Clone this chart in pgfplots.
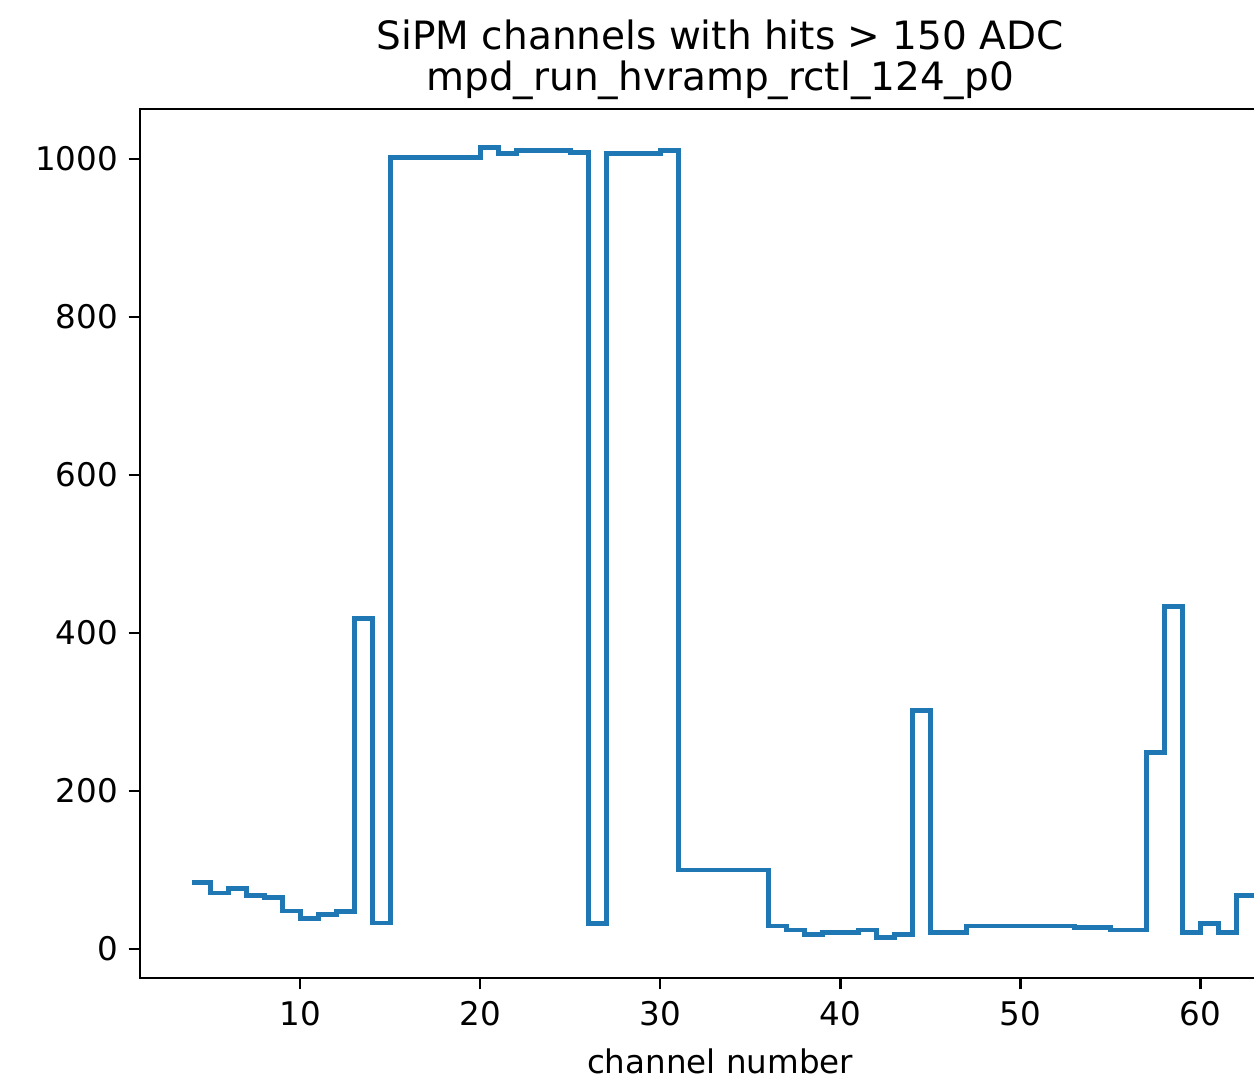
\documentclass[border=0pt]{standalone}
\usepackage{fontspec}
\setmainfont{DejaVu Sans}
\usepackage{pgfplots}
\pgfplotsset{compat=1.18}
\definecolor{mplblue}{HTML}{1F77B4}
\begin{document}
\begin{tikzpicture}
\begin{axis}[
  scale only axis,
  width=386.7pt, height=289.7pt,
  xmin=1.11, xmax=65.55,
  ymin=-36.7, ymax=1063.3,
  xtick={10,20,30,40,50,60},
  ytick={0,200,400,600,800,1000},
  tick align=outside,
  tick pos=left,
  major tick length=3.8pt,
  every tick/.style={black, line width=0.85pt},
  axis line style={line width=0.85pt},
  /pgf/number format/assume math mode=true,
  /pgf/number format/1000 sep={},
  ticklabel style={font=\fontsize{10.85}{13}\selectfont},
  xticklabel style={yshift=-0.5pt},
  xlabel={channel number},
  xlabel style={font=\fontsize{10.85}{13}\selectfont, yshift=-0.8pt},
  title={SiPM channels with hits > 150 ADC\\mpd\_run\_hvramp\_rctl\_124\_p0},
  title style={align=center, font=\fontsize{13}{13.7}\selectfont, yshift=-6.5pt},
]
\addplot[const plot mark left, mplblue, line width=1.6pt, line join=miter, mark=none] coordinates {
(4,84)(5,71)(6,77)(7,68)(8,65)(9,48)(10,39)(11,44)(12,47)(13,418)(14,33)(15,1002)(20,1014)(21,1007)(22,1011)(25,1008)(26,32)(27,1007)(30,1011)(31,100)(36,29)(37,24)(38,18)(39,21)(41,24)(42,15)(43,18)(44,302)(45,21)(47,29)(53,27)(55,24)(57,249)(58,433)(59,21)(60,32)(61,21)(62,68)(64,68)
};
\end{axis}
\pgfresetboundingbox
\path[use as bounding box] (-46.7pt,-33.7pt) rectangle (371.3pt,326pt);
\end{tikzpicture}
\end{document}
